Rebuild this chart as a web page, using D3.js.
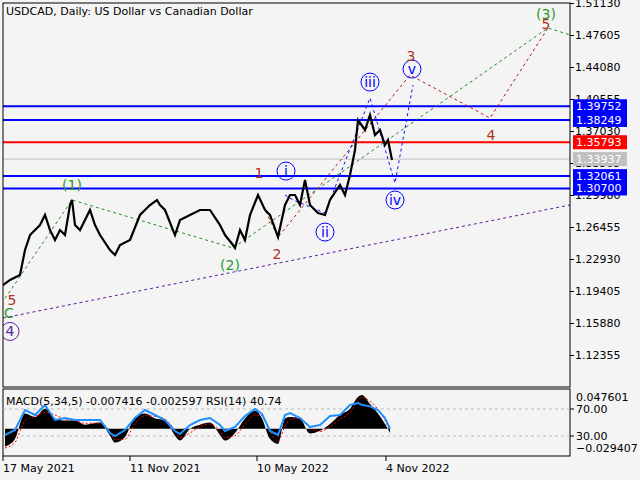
<!DOCTYPE html>
<html><head><meta charset="utf-8">
<script src="https://cdn.jsdelivr.net/npm/d3@7"></script>
<style>body{margin:0;background:#f4f4f4}svg{display:block;font-family:"DejaVu Sans",sans-serif}</style>
</head><body><svg id="c" width="640" height="480"></svg>
<script>
// bar index (days from 17 May 2021) and close price, sampled about weekly
var barIdx = [0,7,17,22,27,37,42,47,52,57,62,67,69,72,77,82,87,92,97,107,112,117,127,137,147,154,157,162,172,177,187,197,207,217,222,230,232,237,242,247,255,262,267,275,282,287,292,297,302,307,315,322,327,337,342,347,352,355,362,367,372,377,382,385,389];
var closes = [1.2006,1.2062,1.2117,1.2392,1.2557,1.2667,1.2778,1.2612,1.2502,1.2612,1.2557,1.2888,1.2943,1.2667,1.2612,1.2722,1.2833,1.2667,1.2557,1.2392,1.2337,1.2447,1.2502,1.2778,1.2888,1.2943,1.2888,1.2833,1.2557,1.2722,1.2778,1.2833,1.2833,1.2667,1.2557,1.2447,1.2414,1.2612,1.2502,1.2778,1.2998,1.2833,1.2778,1.2535,1.2888,1.2998,1.2998,1.2888,1.3163,1.2888,1.2800,1.2778,1.2943,1.3108,1.2998,1.3218,1.3494,1.3824,1.3714,1.3879,1.3659,1.3714,1.3549,1.3604,1.3384];
var priceTicks = [1.51130,1.47605,1.44080,1.40555,1.37030,1.33505,1.29980,1.26455,1.22930,1.19405,1.15880,1.12355];
var levels = [
  {v:1.39752,c:"#0000ff"},{v:1.38249,c:"#0000ff"},{v:1.35793,c:"#ff0000"},
  {v:1.33937,c:"#c0c0c0"},{v:1.32061,c:"#0000ff"},{v:1.30700,c:"#0000ff"}];
var waveGreen = [[2,1.1859],[69,1.2943],[230,1.2414],[545,1.4838],[567,1.4761]];
var waveRed = [[255,1.2998],[275,1.2535],[407,1.4320],[487,1.3846],[545,1.4838]];
var waveBlue = [[282,1.2998],[290,1.2943],[322,1.2800],[367,1.4066],[392,1.3130],[410,1.4210]];
var trendPurple = [[0,1.1643],[567,1.2888]];
var waveLabels = [
  {i:283,p:1.3262,t:"i",k:"blue"},{i:322,p:1.2590,t:"ii",k:"blue"},{i:367,p:1.4242,t:"iii",k:"blue"},
  {i:392,p:1.2943,t:"iv",k:"blue"},{i:409,p:1.4385,t:"v",k:"blue"},
  {i:256,p:1.3240,t:"1",k:"red"},{i:274,p:1.2350,t:"2",k:"red"},{i:408,p:1.4527,t:"3",k:"red"},
  {i:488,p:1.3660,t:"4",k:"red"},{i:543,p:1.4880,t:"5",k:"red"},{i:9,p:1.1842,t:"5",k:"red"},
  {i:69,p:1.3108,t:"(1)",k:"green"},{i:227,p:1.2226,t:"(2)",k:"green"},{i:543,p:1.4990,t:"(3)",k:"green"},
  {i:6,p:1.1700,t:"C",k:"green"},{i:7,p:1.1495,t:"4",k:"purple"}];
// indicator samples: MACD histogram, signal, RSI
var indIdx = [2,12,22,32,42,52,62,72,82,97,107,112,122,132,142,152,162,172,177,187,197,207,217,222,232,242,252,259,267,275,282,287,297,307,317,327,337,347,355,359,367,375,382,387];
var macdHist = [-0.026,-0.015,0.022,0.017,0.029,0.015,0.012,0.012,0.006,0.009,-0.010,-0.020,-0.012,0.017,0.022,0.015,0.013,-0.010,-0.017,0.000,0.006,0.009,-0.009,-0.017,-0.006,0.015,0.026,0.015,-0.015,-0.022,0.015,0.017,0.015,-0.007,-0.003,0.007,0.020,0.029,0.046,0.049,0.036,0.022,0.007,-0.006];
var macdSig = [-0.028,-0.020,0.012,0.018,0.024,0.020,0.014,0.012,0.008,0.008,-0.004,-0.016,-0.015,0.008,0.019,0.018,0.014,-0.002,-0.013,-0.006,0.003,0.007,-0.003,-0.013,-0.010,0.006,0.020,0.019,-0.004,-0.018,0.004,0.014,0.015,0.002,-0.004,0.003,0.014,0.024,0.040,0.046,0.040,0.028,0.012,-0.003];
var rsi = [31.5,38.9,68.5,61.1,75.9,53.7,56.7,53.7,53.7,53.7,34.4,30.0,38.9,56.7,68.5,61.1,53.7,37.4,33.0,46.3,53.7,56.7,46.3,37.4,43.3,59.6,70.0,62.6,37.4,31.5,61.1,64.1,56.7,43.3,46.3,59.6,61.1,75.9,78.9,76.3,73.9,68.5,56.7,40.7];
var dateTicks = [{i:0,t:"17 May 2021"},{i:127,t:"11 Nov 2021"},{i:254,t:"10 May 2022"},{i:383,t:"4 Nov 2022"}];

var svg = d3.select("#c");
var L = 3, R = 570, T = 3, B = 387, iT = 389, iB = 456;
var x = d3.scaleLinear().domain([0, 567]).range([L, R]);
var y = d3.scaleLinear().domain([1.12355, 1.51130]).range([355, 3]);
var ym = d3.scaleLinear().domain([-0.029407, 0.047601]).range([449, 396]);
var yr = d3.scaleLinear().domain([30, 70]).range([436, 409]);

svg.append("rect").attr("width", 640).attr("height", 480).attr("fill", "#f4f4f4");
var main = svg.append("g");
main.append("defs").append("clipPath").attr("id", "cp").append("rect")
  .attr("x", L).attr("y", T).attr("width", R - L).attr("height", B - T);
var plot = main.append("g").attr("clip-path", "url(#cp)");

// horizontal levels
levels.forEach(function (d) {
  plot.append("line").attr("x1", L).attr("x2", R).attr("y1", y(d.v)).attr("y2", y(d.v))
    .attr("stroke", d.c).attr("stroke-width", d.c == "#c0c0c0" ? 1 : 2);
});

var line = d3.line().x(function (d) { return x(d[0]); }).y(function (d) { return y(d[1]); });
function dashed(pts, col, w) {
  plot.append("path").attr("d", line(pts)).attr("fill", "none").attr("stroke", col)
    .attr("stroke-width", w || 1).attr("stroke-dasharray", "3,3");
}
dashed(trendPurple, "#5b1a9e");
dashed(waveGreen, "#1f8f1f");
dashed(waveRed, "#b22222");
dashed(waveBlue, "#1010ff");

// price
plot.append("path").attr("d", line(barIdx.map(function (d, i) { return [d, closes[i]]; })))
  .attr("fill", "none").attr("stroke", "#000").attr("stroke-width", 2.2);

// wave labels
var colMap = {blue: "#0000ff", red: "#b03020", green: "#2a9a2a", purple: "#6020a0"};
waveLabels.forEach(function (d) {
  var cx = x(d.i), cy = y(d.p);
  if (d.k == "blue" || d.k == "purple") {
    plot.append("circle").attr("cx", cx).attr("cy", cy).attr("r", 9)
      .attr("fill", "none").attr("stroke", colMap[d.k]);
  }
  plot.append("text").attr("x", cx).attr("y", cy + 5).attr("text-anchor", "middle")
    .attr("font-size", 14).attr("fill", colMap[d.k]).text(d.t);
});

main.append("text").attr("x", 6).attr("y", 15).attr("font-size", 11).text("USDCAD, Daily:  US Dollar vs Canadian Dollar");

// frames
main.append("rect").attr("x", L).attr("y", T).attr("width", R - L).attr("height", B - T)
  .attr("fill", "none").attr("stroke", "#000");
svg.append("rect").attr("x", L).attr("y", iT).attr("width", R - L).attr("height", iB - iT)
  .attr("fill", "none").attr("stroke", "#000");

// price axis
var ax = svg.append("g").attr("transform", "translate(" + R + ",0)")
  .call(d3.axisRight(y).tickValues(priceTicks).tickSize(4).tickFormat(d3.format(".5f")));
ax.select(".domain").remove();
ax.selectAll("text").attr("font-size", 11).attr("font-family", "DejaVu Sans").attr("dx", -2);
levels.forEach(function (d) {
  svg.append("rect").attr("x", 573).attr("y", y(d.v) - 7).attr("width", 54).attr("height", 14).attr("fill", d.c);
  svg.append("text").attr("x", 576).attr("y", y(d.v) + 4).attr("font-size", 11).attr("fill", "#fff")
    .text(d3.format(".5f")(d.v));
});

// indicator panel
var ind = svg.append("g");
[70, 30].forEach(function (v) {
  ind.append("line").attr("x1", L).attr("x2", R).attr("y1", yr(v)).attr("y2", yr(v))
    .attr("stroke", "#bbb").attr("stroke-dasharray", "3,3");
});
var pts = indIdx.map(function (d, i) { return {i: d, h: macdHist[i], s: macdSig[i], r: rsi[i]}; });
ind.append("path").attr("d", d3.area().curve(d3.curveMonotoneX).x(function (d) { return x(d.i); })
  .y0(ym(0)).y1(function (d) { return ym(d.h); })(pts)).attr("fill", "#000");
ind.append("path").attr("d", d3.line().curve(d3.curveMonotoneX).x(function (d) { return x(d.i); })
  .y(function (d) { return ym(d.s); })(pts)).attr("fill", "none").attr("stroke", "red").attr("stroke-dasharray", "2,2");
ind.append("path").attr("d", d3.line().x(function (d) { return x(d.i); })
  .y(function (d) { return yr(d.r); })(pts)).attr("fill", "none").attr("stroke", "#1e90ff").attr("stroke-width", 2);
ind.append("text").attr("x", 6).attr("y", 405).attr("font-size", 11)
  .text("MACD(5,34,5) -0.007416 -0.002597 RSI(14) 40.74");
[[0.047601, 397, ".6f"], [70, yr(70), ".2f"], [30, yr(30), ".2f"], [-0.029407, 448, ".6f"]].forEach(function (d, k) {
  if (k == 1 || k == 2) svg.append("line").attr("x1", R).attr("x2", R + 4).attr("y1", d[1]).attr("y2", d[1]).attr("stroke", "#000");
  svg.append("text").attr("x", 576).attr("y", d[1] + 4).attr("font-size", 11).text(d3.format(d[2])(d[0]));
});

// date axis
dateTicks.forEach(function (d) {
  svg.append("line").attr("x1", x(d.i)).attr("x2", x(d.i)).attr("y1", iB).attr("y2", iB + 5).attr("stroke", "#000");
  svg.append("text").attr("x", x(d.i)).attr("y", 472).attr("font-size", 11).text(d.t);
});
</script></body></html>
